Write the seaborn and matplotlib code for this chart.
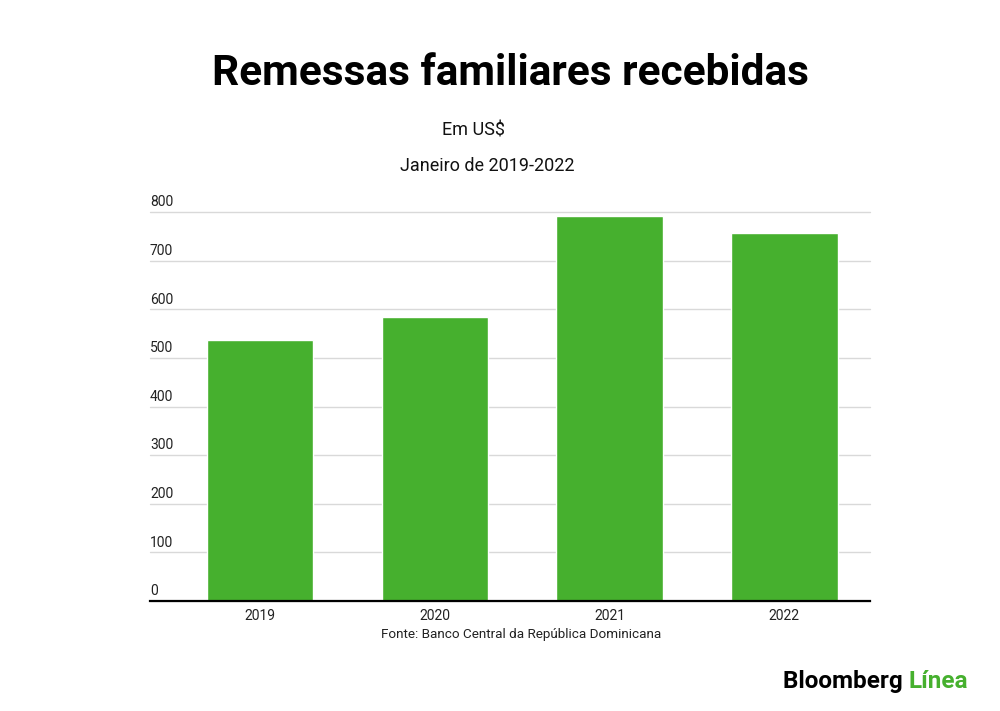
import matplotlib
matplotlib.use('Agg')
import matplotlib.pyplot as plt
import matplotlib.transforms as mtransforms
import seaborn as sns
import pandas as pd

anos = ['2019', '2020', '2021', '2022']
valores = [537, 585, 792, 758]
yticks = [0, 100, 200, 300, 400, 500, 600, 700, 800]

verde = '#46b02e'

sns.set_style('white')
plt.rcParams['font.family'] = ['Roboto', 'DejaVu Sans']

df = pd.DataFrame({'Ano': anos, 'Valor': valores})

fig = plt.figure(figsize=(10, 7.11), dpi=100)
ax = fig.add_axes([0.15, 0.1547, 0.72, 0.547])

sns.barplot(data=df, x='Ano', y='Valor', color=verde, saturation=1, width=0.61, ax=ax)

ax.set_xlim(-0.63, 3.49)
ax.set_ylim(0, 800)
ax.set_yticks(yticks)
ax.set_yticklabels([str(v) for v in yticks])
ax.yaxis.grid(True, color='#d9d9d9', linewidth=1)
ax.set_axisbelow(True)
for gl in ax.get_ygridlines():
    gl.set_clip_on(False)
ax.set_xlabel('')
ax.set_ylabel('')

for s in ['top', 'right', 'left']:
    ax.spines[s].set_visible(False)
ax.spines['bottom'].set_color('black')
ax.spines['bottom'].set_linewidth(1.6)

ax.tick_params(axis='y', length=0, pad=0, labelsize=10, labelcolor='#222222')
ax.tick_params(axis='x', length=0, pad=6, labelsize=10, labelcolor='#222222')
off = mtransforms.ScaledTranslation(0, 2 / 72, fig.dpi_scale_trans)
for lab in ax.get_yticklabels():
    lab.set_horizontalalignment('left')
    lab.set_verticalalignment('bottom')
    lab.set_transform(lab.get_transform() + off)

fig.text(0.511, 0.897, 'Remessas familiares recebidas', ha='center', va='center',
         fontsize=30.5, fontweight='bold', color='black')
fig.text(0.473, 0.817, 'Em US$', ha='center', va='center', fontsize=13, color='#111111')
fig.text(0.487, 0.767, 'Janeiro de 2019-2022', ha='center', va='center', fontsize=13, color='#111111')
fig.text(0.521, 0.107, 'Fonte: Banco Central da República Dominicana', ha='center', va='center',
         fontsize=9.7, color='#222222')

t1 = fig.text(0.783, 0.042, 'Bloomberg ', ha='left', va='center', fontsize=17.5,
              fontweight='bold', color='black')
fig.canvas.draw()
bb = t1.get_window_extent()
x2 = bb.x1 / fig.bbox.width
fig.text(x2, 0.042, 'Línea', ha='left', va='center', fontsize=17.5,
         fontweight='bold', color=verde)

fig.savefig('out.png', dpi=100, facecolor='white')
